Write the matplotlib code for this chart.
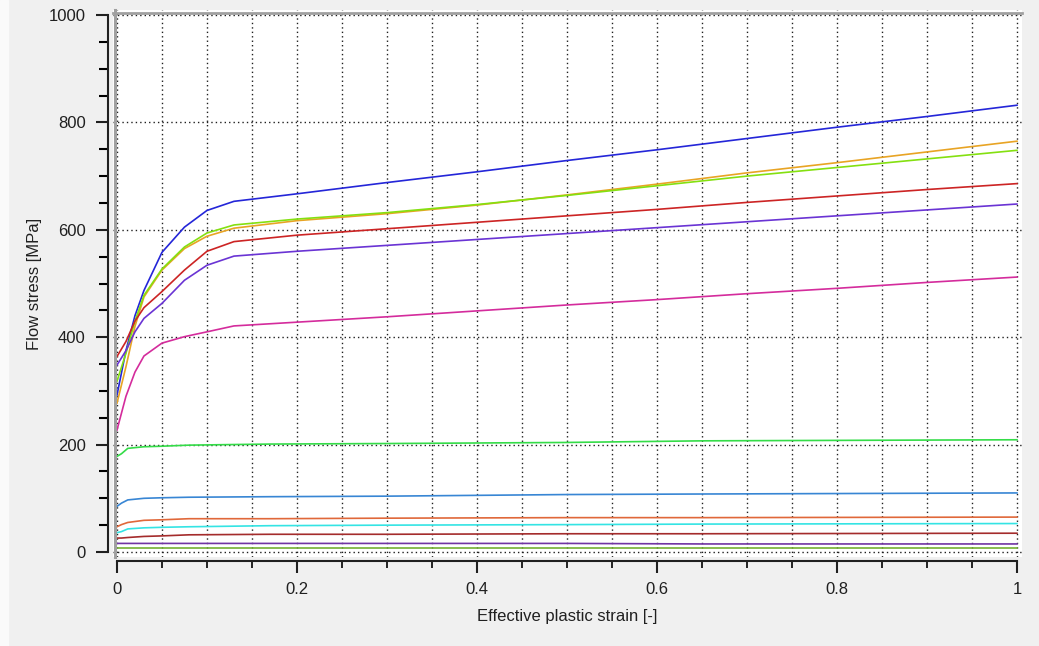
import numpy as np
import matplotlib
matplotlib.use("Agg")
import matplotlib.pyplot as plt
from matplotlib.patches import Rectangle

plt.rcParams['font.family'] = ['Liberation Sans', 'DejaVu Sans']

# flow curves: strain points and stress values [MPa]
strain_hi = [0, 0.01, 0.02, 0.03, 0.05, 0.075, 0.1, 0.13, 0.2, 0.3, 0.4, 0.5, 0.6, 0.7, 0.8, 0.9, 1.0]
blue = [292, 375, 440, 487, 558, 605, 636, 653, 667, 688, 708, 729, 749, 770, 791, 811, 832]
orange = [277, 345, 420, 475, 525, 565, 588, 603, 617, 630, 646, 665, 685, 706, 725, 745, 765]
lime = [318, 370, 430, 478, 527, 568, 594, 609, 620, 632, 647, 664, 682, 700, 716, 732, 748]
red = [364, 392, 430, 455, 485, 525, 560, 578, 590, 602, 614, 626, 638, 651, 663, 675, 686]
violet = [348, 375, 410, 435, 463, 506, 534, 551, 560, 571, 582, 593, 604, 615, 626, 637, 648]
magenta = [227, 290, 335, 365, 389, 401, 410, 421, 428, 438, 449, 460, 470, 481, 491, 502, 512]

strain_lo = [0, 0.005, 0.012, 0.03, 0.05, 0.08, 0.17, 0.3, 0.5, 0.65, 1.0]
green = [178, 183, 193, 196, 197, 199, 201, 202, 204, 207, 209]
steel = [85, 91, 97, 100, 101, 102, 103, 104, 107, 108, 110]
rust = [47, 51, 55, 59, 60, 62, 62, 63, 64, 64, 65]
cyan = [36, 38, 43, 45, 46, 47, 49, 50, 51, 52, 53]
maroon = [26, 26, 27, 29, 30, 32, 33, 33, 34, 34, 35]
indigo = [16, 16, 16, 16, 16, 16, 16, 16, 16, 15, 15]
olive = [7, 7, 7, 7, 7, 7, 7, 7, 7, 7, 7]

hi_curves = [(blue, '#2426d8'), (orange, '#e8a424'), (lime, '#84e010'),
             (red, '#cc2424'), (violet, '#6a34d4'), (magenta, '#d42c9c')]
lo_curves = [(green, '#34dc48'), (steel, '#3886d4'), (rust, '#e0683a'),
             (cyan, '#34e4e4'), (maroon, '#a42c2c'), (indigo, '#7034a4'),
             (olive, '#74b034')]

x_ticks = [0, 0.2, 0.4, 0.6, 0.8, 1]
x_labels = ['0', '0.2', '0.4', '0.6', '0.8', '1']
y_ticks = [0, 200, 400, 600, 800, 1000]
y_labels = ['0', '200', '400', '600', '800', '1000']

fig = plt.figure(figsize=(10.39, 6.46), dpi=100, facecolor='#f0f0f0')
fig.patches.append(Rectangle((0, 0), 8 / 1039, 1, transform=fig.transFigure,
                             color='#fafafa', zorder=-1))
ax = fig.add_axes([113 / 1039, 89 / 646, 909 / 1039, 547 / 646])
ax.set_facecolor('white')

for vals, col in hi_curves:
    ax.plot(strain_hi, vals, color=col, lw=1.2, zorder=3)
for vals, col in lo_curves:
    ax.plot(strain_lo, vals, color=col, lw=1.2, zorder=3)

ax.set_xlim(-0.0044, 1.0056)
ax.set_ylim(-9.3, 1009.3)

ax.set_xticks(x_ticks)
ax.set_xticklabels(x_labels)
ax.set_xticks(np.arange(0, 1.0001, 0.05), minor=True)
ax.set_yticks(y_ticks)
ax.set_yticklabels(y_labels)
ax.set_yticks(np.arange(0, 1001, 50), minor=True)

# dotted grid: vertical at every minor step, horizontal only at majors
dots = (0, (1, 2.2))
for xv in np.arange(0, 1.0001, 0.05):
    ax.axvline(xv, color='#202020', lw=1.0, ls=dots, zorder=1)
for yv in y_ticks:
    ax.axhline(yv, color='#202020', lw=1.0, ls=dots, zorder=1)

for s in ['top', 'right']:
    ax.spines[s].set_visible(False)
ax.spines['left'].set_position(('outward', 3.6))
ax.spines['bottom'].set_position(('outward', 2.9))
ax.spines['left'].set_bounds(0, 1000)
ax.spines['bottom'].set_bounds(0, 1)
for s in ['left', 'bottom']:
    ax.spines[s].set_linewidth(1.5)
    ax.spines[s].set_color('#202020')

ax.tick_params(axis='y', which='major', direction='out', length=9, width=1.5,
               pad=7, labelsize=12, colors='#202020')
ax.tick_params(axis='y', which='minor', direction='out', length=6.5, width=1.5)
ax.tick_params(axis='x', which='major', direction='out', length=8.6, width=1.5,
               pad=6.5, labelsize=12, colors='#202020')
ax.tick_params(axis='x', which='minor', direction='out', length=5, width=1.2)

# gray frame on the left and top of the plot area
ax.plot([0.0025, 0.0025], [0, 1], transform=ax.transAxes, color='#a0a0a0',
        lw=2.2, clip_on=False, zorder=4)
ax.plot([0, 1], [0.995, 0.995], transform=ax.transAxes, color='#a0a0a0',
        lw=2.0, clip_on=False, zorder=4)

ax.set_xlabel('Effective plastic strain [-]', fontsize=12, color='#202020', labelpad=9)
ax.set_ylabel('Flow stress [MPa]', fontsize=12, color='#202020', labelpad=5)

plt.savefig('out.png', dpi=100, facecolor=fig.get_facecolor())
